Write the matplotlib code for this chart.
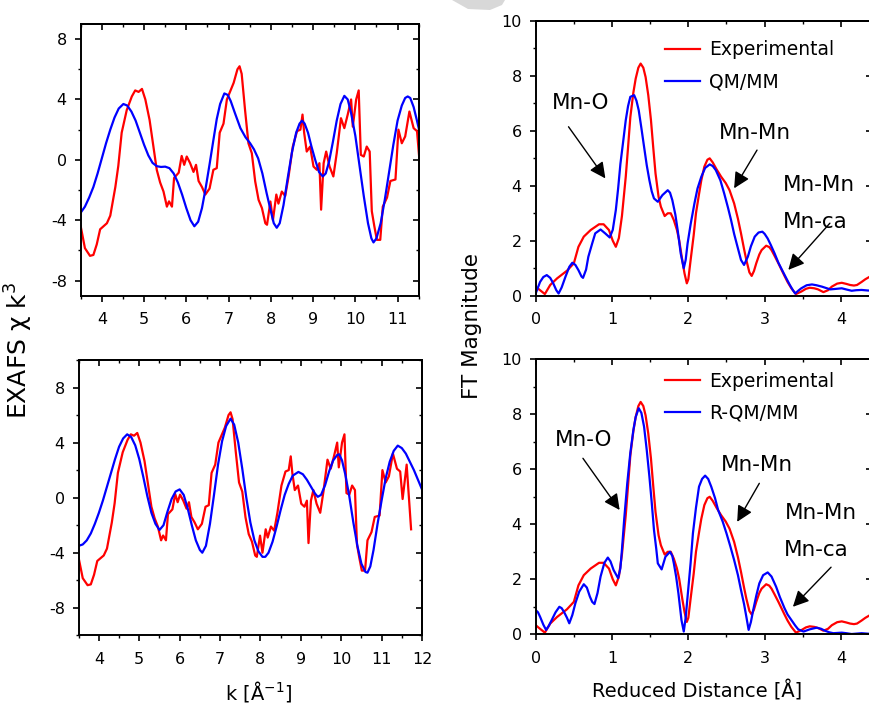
import matplotlib
matplotlib.use("Agg")
import matplotlib.pyplot as plt
from matplotlib.ticker import MultipleLocator
from matplotlib.patches import Polygon

plt.rcParams['font.family'] = ['DejaVu Sans']
plt.rcParams['mathtext.default'] = 'regular'
plt.rcParams['axes.unicode_minus'] = False

# ---------------- EXAFS data (k, chi*k^3) ----------------
k_exp = [3.5, 3.6, 3.72, 3.8, 3.88, 3.96, 4.12, 4.2, 4.32, 4.39, 4.47, 4.59, 4.71, 4.79, 4.87, 4.95,
         5.03, 5.13, 5.22, 5.3, 5.38, 5.46, 5.54, 5.59, 5.66, 5.71, 5.82, 5.89, 5.95, 6.01, 6.09,
         6.17, 6.23, 6.29, 6.37, 6.45, 6.55, 6.64, 6.72, 6.79, 6.88, 6.96, 7.12, 7.21, 7.26, 7.31,
         7.39, 7.47, 7.55, 7.63, 7.71, 7.79, 7.87, 7.91, 7.99, 8.05, 8.13, 8.18, 8.26, 8.34, 8.42,
         8.52, 8.62, 8.7, 8.75, 8.79, 8.85, 8.93, 9.01, 9.09, 9.15, 9.19, 9.25, 9.31, 9.39, 9.48,
         9.56, 9.66, 9.74, 9.82, 9.9, 9.94, 10.02, 10.08, 10.13, 10.2, 10.27, 10.34, 10.39, 10.45,
         10.51, 10.59, 10.65, 10.75, 10.83, 10.95, 11.02, 11.1, 11.18, 11.28, 11.38, 11.46, 11.52,
         11.62, 11.73]
chi_exp = [-4.4, -5.85, -6.36, -6.3, -5.6, -4.6, -4.2, -3.7, -1.8, -0.4, 1.8, 3.3, 4.2, 4.6, 4.5, 4.7,
           4.0, 2.65, 0.9, -0.66, -1.5, -2.1, -3.1, -2.75, -3.1, -1.2, -0.85, 0.26, -0.33, 0.22, -0.22,
           -0.8, -0.33, -1.4, -1.8, -2.3, -1.9, -0.66, -0.55, 1.8, 2.4, 4.0, 5.1, 6.0, 6.2, 5.7,
           3.3, 1.1, 0.44, -1.43, -2.65, -3.2, -4.2, -4.3, -2.76, -4.0, -2.3, -2.9, -2.1, -2.4, -1.1,
           0.88, 1.9, 2.0, 3.0, 1.77, 0.55, 0.88, -0.44, -0.66, -0.22, -3.3, -0.22, 0.55, -0.44, -1.1,
           0.44, 2.76, 2.1, 3.0, 4.0, 2.2, 4.0, 4.6, 0.33, 0.22, 0.88, 0.55, -3.4, -4.4,
           -5.3, -5.3, -3.1, -2.5, -1.4, -1.3, 2.0, 1.1, 1.55, 3.2, 2.1, 1.9, -0.1,
           2.4, -2.3]

k_qm = [3.5, 3.6, 3.7, 3.8, 3.9, 4.0, 4.1, 4.2, 4.3, 4.4, 4.51, 4.6, 4.7, 4.8, 4.9, 5.0, 5.1, 5.2,
        5.3, 5.4, 5.5, 5.6, 5.7, 5.8, 5.9, 6.0, 6.1, 6.19, 6.28, 6.37, 6.45, 6.55, 6.64, 6.72, 6.8,
        6.9, 6.98, 7.05, 7.15, 7.28, 7.4, 7.51, 7.6, 7.7, 7.8, 7.9, 8.0, 8.07, 8.14, 8.21, 8.3, 8.4,
        8.5, 8.6, 8.68, 8.74, 8.8, 8.88, 8.96, 9.05, 9.14, 9.23, 9.3, 9.38, 9.47, 9.56, 9.65, 9.74,
        9.82, 9.9, 10.0, 10.1, 10.2, 10.3, 10.38, 10.43, 10.5, 10.6, 10.7, 10.8, 10.9, 11.0, 11.1,
        11.18, 11.24, 11.3, 11.38, 11.45, 11.5]
chi_qm = [-3.5, -3.1, -2.5, -1.8, -0.9, 0.1, 1.1, 2.0, 2.8, 3.4, 3.7, 3.6, 3.2, 2.6, 1.8, 1.0, 0.3, -0.2,
          -0.42, -0.47, -0.45, -0.55, -0.9, -1.5, -2.3, -3.2, -4.0, -4.4, -4.1, -3.2, -2.0, -0.3, 1.3, 2.7, 3.7,
          4.4, 4.3, 3.9, 3.1, 2.1, 1.5, 1.1, 0.7, 0.1, -0.9, -2.2, -3.4, -4.2, -4.5, -4.2, -3.0, -1.2,
          0.5, 1.8, 2.4, 2.6, 2.4, 1.8, 0.9, 0.0, -0.8, -1.1, -0.9, -0.1, 1.2, 2.6, 3.7, 4.24,
          4.0, 3.1, 1.6, -0.4, -2.4, -4.2, -5.2, -5.47, -5.2, -4.2, -2.6, -0.8, 1.0, 2.6, 3.6,
          4.1, 4.2, 4.1, 3.5, 2.7, 2.1]

k_rqm = [3.5, 3.6, 3.7, 3.8, 3.9, 4.0, 4.1, 4.2, 4.3, 4.4, 4.5, 4.6, 4.7, 4.8, 4.9, 5.0, 5.1, 5.2,
         5.3, 5.4, 5.5, 5.6, 5.7, 5.8, 5.9, 6.0, 6.1, 6.2, 6.3, 6.4, 6.5, 6.56, 6.65, 6.75, 6.85,
         6.95, 7.05, 7.15, 7.26, 7.35, 7.45, 7.55, 7.65, 7.75, 7.85, 7.95, 8.05, 8.12, 8.2, 8.3,
         8.4, 8.5, 8.6, 8.7, 8.8, 8.94, 9.05, 9.15, 9.25, 9.35, 9.42, 9.5, 9.6, 9.7, 9.8, 9.9, 9.95,
         10.02, 10.1, 10.2, 10.3, 10.4, 10.5, 10.6, 10.65, 10.72, 10.8, 10.9, 11.0, 11.1, 11.2,
         11.3, 11.4, 11.5, 11.6, 11.7, 11.8, 11.9, 12.0]
chi_rqm = [-3.5, -3.4, -3.1, -2.6, -1.9, -1.1, -0.2, 0.8, 1.8, 2.8, 3.7, 4.3, 4.6, 4.4, 3.8, 2.8, 1.5, 0.1,
           -1.1, -1.9, -2.35, -2.0, -1.0, -0.1, 0.45, 0.6, 0.2, -0.8, -2.0, -3.1, -3.8, -4.0, -3.5, -1.9, 0.2,
           2.4, 4.1, 5.2, 5.74, 5.3, 4.0, 2.1, 0.0, -1.8, -3.1, -3.9, -4.3, -4.3, -4.0, -3.2,
           -2.1, -0.9, 0.2, 1.0, 1.6, 1.87, 1.7, 1.3, 0.8, 0.3, 0.06, 0.2, 0.9, 1.9, 2.7, 3.1, 3.15,
           2.7, 1.7, 0.1, -1.8, -3.5, -4.8, -5.4, -5.45, -5.0, -3.8, -1.9, -0.2, 1.4, 2.6,
           3.4, 3.78, 3.6, 3.2, 2.6, 2.0, 1.3, 0.6]

# ---------------- FT data (R, |FT|) ----------------
r_exp = [0.0, 0.057, 0.12, 0.19, 0.28, 0.41, 0.5, 0.56, 0.63, 0.72, 0.83, 0.89, 0.96, 1.01, 1.05, 1.09,
         1.13, 1.18, 1.21, 1.24, 1.28, 1.31, 1.345, 1.375, 1.41, 1.44, 1.475, 1.51, 1.54, 1.57, 1.61,
         1.64, 1.69, 1.73, 1.77, 1.81, 1.85, 1.88, 1.92, 1.95, 1.98, 2.0, 2.03, 2.07, 2.1, 2.14, 2.17,
         2.21, 2.25, 2.28, 2.32, 2.37, 2.43, 2.49, 2.54, 2.6, 2.65, 2.69, 2.73, 2.76, 2.8, 2.83, 2.86,
         2.89, 2.93, 2.96, 3.02, 3.06, 3.09, 3.13, 3.18, 3.22, 3.26, 3.3, 3.35, 3.41, 3.48, 3.54, 3.59,
         3.65, 3.7, 3.77, 3.83, 3.88, 3.95, 4.01, 4.07, 4.12, 4.17, 4.21, 4.27, 4.32, 4.37, 4.41]
ft_exp = [0.33, 0.2, 0.06, 0.39, 0.63, 0.91, 1.18, 1.78, 2.15, 2.39, 2.6, 2.6, 2.39, 2.0, 1.78, 2.1,
          2.9, 4.33, 5.4, 6.5, 7.4, 7.9, 8.3, 8.45, 8.3, 7.96, 7.3, 6.4, 5.4, 4.45, 3.6,
          3.24, 2.9, 3.0, 3.0, 2.75, 2.4, 2.02, 1.3, 0.81, 0.45, 0.6, 1.3, 2.2, 3.0, 3.7, 4.2,
          4.7, 4.95, 5.0, 4.85, 4.6, 4.33, 4.1, 3.84, 3.36, 2.8, 2.27, 1.7, 1.3, 0.85, 0.72, 0.9,
          1.18, 1.5, 1.66, 1.82, 1.77, 1.66, 1.45, 1.18, 0.95, 0.72, 0.5, 0.27, 0.06, 0.15, 0.25, 0.29,
          0.27, 0.23, 0.13, 0.2, 0.33, 0.44, 0.47, 0.43, 0.39, 0.37, 0.39, 0.5, 0.6, 0.68, 0.75]

r_qm = [0.0, 0.03, 0.057, 0.1, 0.145, 0.19, 0.23, 0.27, 0.3, 0.34, 0.39, 0.44, 0.48, 0.52, 0.56, 0.6,
        0.62, 0.66, 0.69, 0.74, 0.78, 0.85, 0.91, 0.97, 1.01, 1.05, 1.08, 1.11, 1.15, 1.18, 1.21,
        1.24, 1.29, 1.32, 1.35, 1.385, 1.42, 1.455, 1.49, 1.52, 1.55, 1.6, 1.66, 1.73, 1.76, 1.79,
        1.83, 1.86, 1.9, 1.94, 1.965, 1.99, 2.03, 2.08, 2.12, 2.17, 2.22, 2.28, 2.32, 2.36, 2.42,
        2.47, 2.52, 2.56, 2.6, 2.65, 2.69, 2.73, 2.78, 2.82, 2.87, 2.92, 2.97, 3.0, 3.04, 3.08,
        3.13, 3.18, 3.24, 3.29, 3.33, 3.37, 3.4, 3.44, 3.48, 3.55, 3.62, 3.68, 3.75, 3.86, 3.94,
        4.01, 4.08, 4.14, 4.2, 4.27, 4.35, 4.41]
ft_qm = [0.08, 0.3, 0.5, 0.68, 0.75, 0.65, 0.45, 0.2, 0.08, 0.3, 0.69, 1.05, 1.2, 1.12, 0.93, 0.7,
         0.65, 0.95, 1.42, 1.9, 2.27, 2.41, 2.27, 2.12, 2.4, 3.12, 3.9, 4.8, 5.7, 6.39, 6.9,
         7.24, 7.3, 7.1, 6.75, 6.1, 5.42, 4.75, 4.2, 3.8, 3.54, 3.42, 3.66, 3.84, 3.75, 3.48,
         2.95, 2.39, 1.54, 1.0, 1.3, 1.9, 2.6, 3.36, 3.9, 4.33, 4.65, 4.78, 4.72, 4.57, 4.2,
         3.72, 3.2, 2.75, 2.25, 1.72, 1.3, 1.12, 1.42, 1.8, 2.15, 2.3, 2.33, 2.25, 2.08, 1.85,
         1.54, 1.2, 0.87, 0.6, 0.39, 0.2, 0.08, 0.18, 0.27, 0.38, 0.41, 0.38, 0.33, 0.23, 0.25,
         0.27, 0.22, 0.18, 0.2, 0.21, 0.19, 0.18]

r_rqm = [0.0, 0.03, 0.057, 0.1, 0.136, 0.17, 0.21, 0.26, 0.31, 0.34, 0.37, 0.41, 0.44, 0.48, 0.52,
         0.57, 0.63, 0.67, 0.71, 0.74, 0.77, 0.81, 0.85, 0.9, 0.945, 0.98, 1.02, 1.08, 1.11, 1.13,
         1.16, 1.2, 1.24, 1.28, 1.31, 1.35, 1.385, 1.42, 1.455, 1.49, 1.52, 1.55, 1.58, 1.6, 1.65,
         1.7, 1.76, 1.79, 1.81, 1.84, 1.87, 1.91, 1.94, 1.965, 1.99, 2.03, 2.06, 2.1, 2.14, 2.18,
         2.22, 2.26, 2.3, 2.35, 2.39, 2.45, 2.5, 2.55, 2.6, 2.65, 2.69, 2.73, 2.76, 2.79, 2.82,
         2.85, 2.89, 2.93, 2.98, 3.04, 3.09, 3.15, 3.2, 3.26, 3.3, 3.35, 3.4, 3.44, 3.51, 3.59,
         3.68, 3.74, 3.79, 3.85, 3.9, 4.01, 4.07, 4.14, 4.27, 4.41]
ft_rqm = [0.88, 0.8, 0.64, 0.35, 0.16, 0.3, 0.52, 0.8, 1.0, 0.95, 0.82, 0.6, 0.4, 0.7, 1.13,
          1.55, 1.82, 1.7, 1.37, 1.18, 1.1, 1.5, 2.1, 2.6, 2.79, 2.65, 2.34, 2.04, 2.4, 3.07,
          4.2, 5.5, 6.6, 7.43, 7.9, 8.22, 8.05, 7.55, 6.7, 5.73, 4.8, 3.79, 3.1, 2.58, 2.36,
          2.82, 3.0, 2.85, 2.58, 2.1, 1.49, 0.52, 0.1, 0.6, 1.37, 2.6, 3.67, 4.6, 5.37, 5.65,
          5.77, 5.65, 5.37, 4.95, 4.52, 4.1, 3.67, 3.2, 2.7, 2.15, 1.61, 1.1, 0.64, 0.16, 0.45,
          0.88, 1.4, 1.85, 2.15, 2.25, 2.1, 1.73, 1.35, 0.95, 0.72, 0.52, 0.32, 0.18, 0.1, 0.18,
          0.24, 0.2, 0.13, 0.07, 0.04, 0.06, 0.04, 0.01, 0.04, 0.01]

RED = '#ff0000'
BLUE = '#0000ff'
LW = 1.6

W, H = 870, 706
fig = plt.figure(figsize=(W / 100, H / 100), dpi=100)


def px_axes(l, t, r, b):
    return fig.add_axes([l / W, 1 - b / H, (r - l) / W, (b - t) / H])


def style(ax, xmaj, xmin, ymaj, ymin):
    for s in ax.spines.values():
        s.set_linewidth(1.4)
    ax.xaxis.set_major_locator(MultipleLocator(xmaj))
    ax.xaxis.set_minor_locator(MultipleLocator(xmin))
    ax.yaxis.set_major_locator(MultipleLocator(ymaj))
    ax.yaxis.set_minor_locator(MultipleLocator(ymin))
    ax.tick_params(which='major', direction='out', length=4, width=1.2, labelsize=11.5)
    ax.tick_params(which='minor', direction='out', length=2.4, width=1.0)
    ax.tick_params(axis='x', which='major', pad=8)
    ax.tick_params(axis='y', which='major', pad=6)
    # inward ticks on top and right
    sx = ax.secondary_xaxis('top')
    sx.xaxis.set_major_locator(MultipleLocator(xmaj))
    sx.xaxis.set_minor_locator(MultipleLocator(xmin))
    sx.tick_params(which='major', direction='in', length=4, width=1.2, labeltop=False)
    sx.tick_params(which='minor', direction='in', length=2.4, width=1.0)
    sx.spines['top'].set_linewidth(1.4)
    sy = ax.secondary_yaxis('right')
    sy.yaxis.set_major_locator(MultipleLocator(ymaj))
    sy.yaxis.set_minor_locator(MultipleLocator(ymin))
    sy.tick_params(which='major', direction='in', length=4, width=1.2, labelright=False)
    sy.tick_params(which='minor', direction='in', length=2.4, width=1.0)
    sy.spines['right'].set_linewidth(1.4)


# ---- top-left EXAFS
ax1 = px_axes(80.7, 24, 418.7, 295.7)
ax1.plot(k_exp, chi_exp, color=RED, lw=LW)
ax1.plot(k_qm, chi_qm, color=BLUE, lw=LW)
ax1.set_xlim(3.5, 11.5)
ax1.set_ylim(-9, 9)
style(ax1, 1, 0.5, 4, 2)

# ---- bottom-left EXAFS
ax2 = px_axes(78.7, 360, 422, 635.3)
ax2.plot(k_exp, chi_exp, color=RED, lw=LW)
ax2.plot(k_rqm, chi_rqm, color=BLUE, lw=LW)
ax2.set_xlim(3.5, 12)
ax2.set_ylim(-10, 10)
style(ax2, 1, 0.5, 4, 2)

# ---- top-right FT
ax3 = px_axes(535.7, 21, 871.5, 295.7)
ax3.plot(r_exp, ft_exp, color=RED, lw=LW, label='Experimental')
ax3.plot(r_qm, ft_qm, color=BLUE, lw=LW, label='QM/MM')
ax3.set_xlim(0, 4.4)
ax3.set_ylim(0, 10)
style(ax3, 1, 0.5, 2, 1)

# ---- bottom-right FT
ax4 = px_axes(535.7, 359.3, 871.5, 634.3)
ax4.plot(r_exp, ft_exp, color=RED, lw=LW, label='Experimental')
ax4.plot(r_rqm, ft_rqm, color=BLUE, lw=LW, label='R-QM/MM')
ax4.set_xlim(0, 4.4)
ax4.set_ylim(0, 10)
style(ax4, 1, 0.5, 2, 1)

for ax, top in ((ax3, 0.93), (ax4, 0.955)):
    ax.legend(loc='upper left', bbox_to_anchor=(0.385, top), frameon=False, fontsize=13.5,
              handlelength=1.85, handletextpad=0.5, labelspacing=0.7, borderpad=0,
              borderaxespad=0)

arrow = dict(arrowstyle='-|>', color='black', lw=1.0, mutation_scale=24, shrinkA=0, shrinkB=0)
FS = 15.5


def annotate(ax, o_txt, o_from, o_to, mm_txt, mm_from, mm_to, mm2_txt, ca_txt, ca_from, ca_to):
    ax.text(*o_txt, 'Mn-O', fontsize=FS, ha='center', va='center')
    ax.annotate('', xy=o_to, xytext=o_from, arrowprops=arrow)
    ax.text(*mm_txt, 'Mn-Mn', fontsize=FS, ha='center', va='center')
    ax.annotate('', xy=mm_to, xytext=mm_from, arrowprops=arrow)
    ax.text(*mm2_txt, 'Mn-Mn', fontsize=FS, ha='center', va='center')
    ax.text(*ca_txt, 'Mn-ca', fontsize=FS, ha='center', va='center')
    ax.annotate('', xy=ca_to, xytext=ca_from, arrowprops=arrow)


annotate(ax3, (0.595, 7.0), (0.43, 6.15), (0.913, 4.27),
         (2.87, 5.91), (2.90, 5.30), (2.60, 3.91),
         (3.71, 4.03), (3.66, 2.69), (3.855, 2.64), (3.31, 0.94))
annotate(ax4, (0.627, 7.07), (0.619, 6.40), (1.10, 4.52),
         (2.896, 6.16), (2.93, 5.49), (2.64, 4.09),
         (3.74, 4.40), (3.68, 3.07), (3.87, 2.44), (3.37, 1.0))

# axis labels
fig.text(19 / W, 1 - 350 / H, 'EXAFS χ k$^{3}$', rotation=90, fontsize=18, ha='center', va='center')
fig.text(472 / W, 1 - 326 / H, 'FT Magnitude', rotation=90, fontsize=15.5, ha='center', va='center')
fig.text(259 / W, 1 - 691 / H, 'k [Å$^{-1}$]', fontsize=14, ha='center', va='center')
fig.text(697 / W, 1 - 691 / H, 'Reduced Distance [Å]', fontsize=14, ha='center', va='center')

# faint grey watermark fragment at the top
fig.patches.append(Polygon([(452 / W, 1.0), (505 / W, 1.0), (502 / W, 1 - 5 / H), (490 / W, 1 - 10 / H),
                            (468 / W, 1 - 9 / H)], closed=True, transform=fig.transFigure,
                           facecolor='#d8d8d8', edgecolor='none'))

fig.savefig('out.png', dpi=100)
